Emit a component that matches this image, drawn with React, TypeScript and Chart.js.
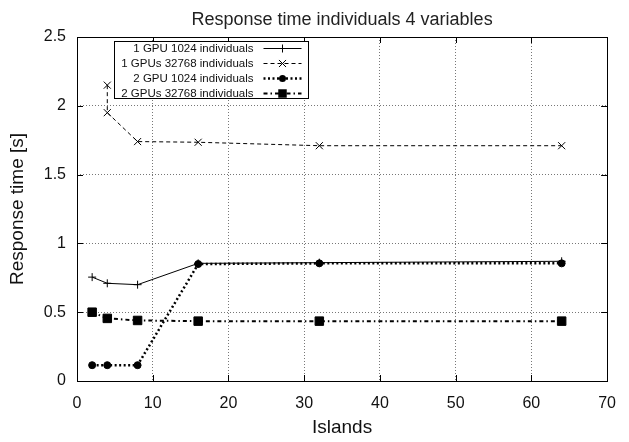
import React, { useEffect, useRef } from "react";
import { Chart, registerables } from "chart.js";

Chart.register(...registerables);

// ---- data ----
const islands = [2, 4, 8, 16, 32, 64];
const islandsGpus32768 = [4, 4, 8, 16, 32, 64];

const gpu1Ind1024 = [0.755, 0.71, 0.7, 0.855, 0.86, 0.87];
const gpu1Ind32768 = [2.15, 1.95, 1.74, 1.735, 1.71, 1.71];
const gpu2Ind1024 = [0.115, 0.115, 0.115, 0.85, 0.855, 0.855];
const gpu2Ind32768 = [0.5, 0.455, 0.44, 0.435, 0.435, 0.435];

const seriesLabels = [
  "1 GPU 1024 individuals",
  "1 GPUs 32768 individuals",
  "2 GPU 1024 individuals",
  "2 GPUs 32768 individuals",
];

const titleText = "Response time individuals 4 variables";
const xTitle = "Islands";
const yTitle = "Response time [s]";

const FONT = "'Liberation Sans', Arial, Helvetica, sans-serif";

const toPoints = (xs: number[], ys: number[]) => xs.map((x, i) => ({ x, y: ys[i] }));

function drawMarker(ctx: CanvasRenderingContext2D, style: string, x: number, y: number, r: number) {
  ctx.save();
  ctx.setLineDash([]);
  ctx.strokeStyle = "#000";
  ctx.fillStyle = "#000";
  ctx.lineWidth = 1;
  ctx.beginPath();
  if (style === "cross") {
    ctx.moveTo(x - r, y);
    ctx.lineTo(x + r, y);
    ctx.moveTo(x, y - r);
    ctx.lineTo(x, y + r);
    ctx.stroke();
  } else if (style === "crossRot") {
    const s = r * Math.SQRT1_2;
    ctx.moveTo(x - s, y - s);
    ctx.lineTo(x + s, y + s);
    ctx.moveTo(x - s, y + s);
    ctx.lineTo(x + s, y - s);
    ctx.stroke();
  } else if (style === "circle") {
    ctx.arc(x, y, r, 0, Math.PI * 2);
    ctx.fill();
  } else if (style === "rect") {
    const s = r * Math.SQRT1_2;
    ctx.rect(x - s, y - s, 2 * s, 2 * s);
    ctx.fill();
  }
  ctx.restore();
}

const framePlugin = {
  id: "gnuplotFrame",
  afterDraw(chart: any) {
    const ctx: CanvasRenderingContext2D = chart.ctx;
    const { left, top, right, bottom } = chart.chartArea;
    const xs = chart.scales.x;
    const ys = chart.scales.y;
    ctx.save();
    ctx.setLineDash([]);
    ctx.strokeStyle = "#000";
    ctx.lineWidth = 1;
    ctx.strokeRect(Math.round(left) + 0.5, Math.round(top) + 0.5, Math.round(right - left), Math.round(bottom - top));
    const tl = 6;
    ctx.beginPath();
    xs.ticks.forEach((t: any) => {
      const px = Math.round(xs.getPixelForValue(t.value)) + 0.5;
      ctx.moveTo(px, bottom);
      ctx.lineTo(px, bottom - tl);
      ctx.moveTo(px, top);
      ctx.lineTo(px, top + tl);
    });
    ys.ticks.forEach((t: any) => {
      const py = Math.round(ys.getPixelForValue(t.value)) + 0.5;
      ctx.moveTo(left, py);
      ctx.lineTo(left + tl, py);
      ctx.moveTo(right, py);
      ctx.lineTo(right - tl, py);
    });
    ctx.stroke();

    // key box
    const bx = Math.round(left) + 37.5;
    const by = Math.round(top) + 4.5;
    const bw = 194;
    const bh = 57;
    ctx.fillStyle = "#fff";
    ctx.fillRect(bx, by, bw, bh);
    ctx.strokeRect(bx, by, bw, bh);
    ctx.font = `11.5px ${FONT}`;
    ctx.textAlign = "right";
    ctx.textBaseline = "middle";
    chart.data.datasets.forEach((ds: any, i: number) => {
      const ry = by + 7 + i * 15;
      ctx.fillStyle = "#111";
      ctx.fillText(ds.label, bx + 139, ry);
      ctx.save();
      ctx.strokeStyle = "#000";
      ctx.lineWidth = ds.borderWidth;
      ctx.setLineDash(ds.borderDash || []);
      ctx.beginPath();
      ctx.moveTo(bx + 149, ry);
      ctx.lineTo(bx + 187, ry);
      ctx.stroke();
      ctx.restore();
      drawMarker(ctx, ds.pointStyle, bx + 168, ry, ds.pointRadius);
    });
    ctx.restore();
  },
};

export default function App() {
  const ref = useRef<HTMLCanvasElement>(null);

  useEffect(() => {
    if (!ref.current) return;
    const chart = new Chart(ref.current, {
      type: "line",
      data: {
        datasets: [
          {
            label: seriesLabels[0],
            data: toPoints(islands, gpu1Ind1024),
            borderColor: "#000",
            backgroundColor: "#000",
            borderWidth: 1,
            borderDash: [],
            pointStyle: "cross",
            pointRadius: 4,
            pointBorderWidth: 1,
          },
          {
            label: seriesLabels[1],
            data: toPoints(islandsGpus32768, gpu1Ind32768),
            borderColor: "#000",
            backgroundColor: "#000",
            borderWidth: 1,
            borderDash: [4, 3],
            pointStyle: "crossRot",
            pointRadius: 5,
            pointBorderWidth: 1,
          },
          {
            label: seriesLabels[2],
            data: toPoints(islands, gpu2Ind1024),
            borderColor: "#000",
            backgroundColor: "#000",
            borderWidth: 2.5,
            borderDash: [2, 2.5],
            pointStyle: "circle",
            pointRadius: 3.5,
            pointBorderWidth: 1,
          },
          {
            label: seriesLabels[3],
            data: toPoints(islands, gpu2Ind32768),
            borderColor: "#000",
            backgroundColor: "#000",
            borderWidth: 2,
            borderDash: [4, 3, 1.5, 3],
            pointStyle: "rect",
            pointRadius: 6,
            pointBorderWidth: 1,
          },
        ],
      },
      options: {
        responsive: false,
        animation: false,
        layout: { padding: { left: 0, right: 14, top: 0, bottom: 0 } },
        plugins: {
          legend: { display: false },
          tooltip: { enabled: false },
          title: {
            display: true,
            text: titleText,
            fullSize: false,
            color: "#222",
            font: { family: FONT, size: 18, weight: "normal" },
            padding: { top: 9, bottom: 6.4 },
          },
        },
        scales: {
          x: {
            type: "linear",
            min: 0,
            max: 70,
            ticks: {
              stepSize: 10,
              color: "#111",
              padding: 13,
              font: { family: FONT, size: 16 },
              callback: (v: any) => String(v),
            },
            grid: { color: "#777", lineWidth: 1, drawTicks: false },
            border: { display: false, dash: [1, 2] },
            title: {
              display: true,
              text: xTitle,
              color: "#111",
              font: { family: FONT, size: 19 },
              padding: { top: 0, bottom: 3 },
            },
            afterFit: (s: any) => {
              s.height = 61;
            },
          },
          y: {
            type: "linear",
            min: 0,
            max: 2.5,
            ticks: {
              stepSize: 0.5,
              color: "#111",
              padding: 11,
              font: { family: FONT, size: 16 },
              callback: (v: any) => String(v),
            },
            grid: { color: "#777", lineWidth: 1, drawTicks: false },
            border: { display: false, dash: [1, 2] },
            title: {
              display: true,
              text: yTitle,
              color: "#111",
              font: { family: FONT, size: 19 },
              padding: { top: 6, bottom: 0 },
            },
            afterFit: (s: any) => {
              s.width = 77;
            },
          },
        },
      },
      plugins: [framePlugin],
    });
    return () => chart.destroy();
  }, []);

  return (
    <div style={{ position: "fixed", left: 0, top: 0, width: 629, height: 442, background: "#fff" }}>
      <canvas ref={ref} width={629} height={442} style={{ display: "block" }} />
    </div>
  );
}
